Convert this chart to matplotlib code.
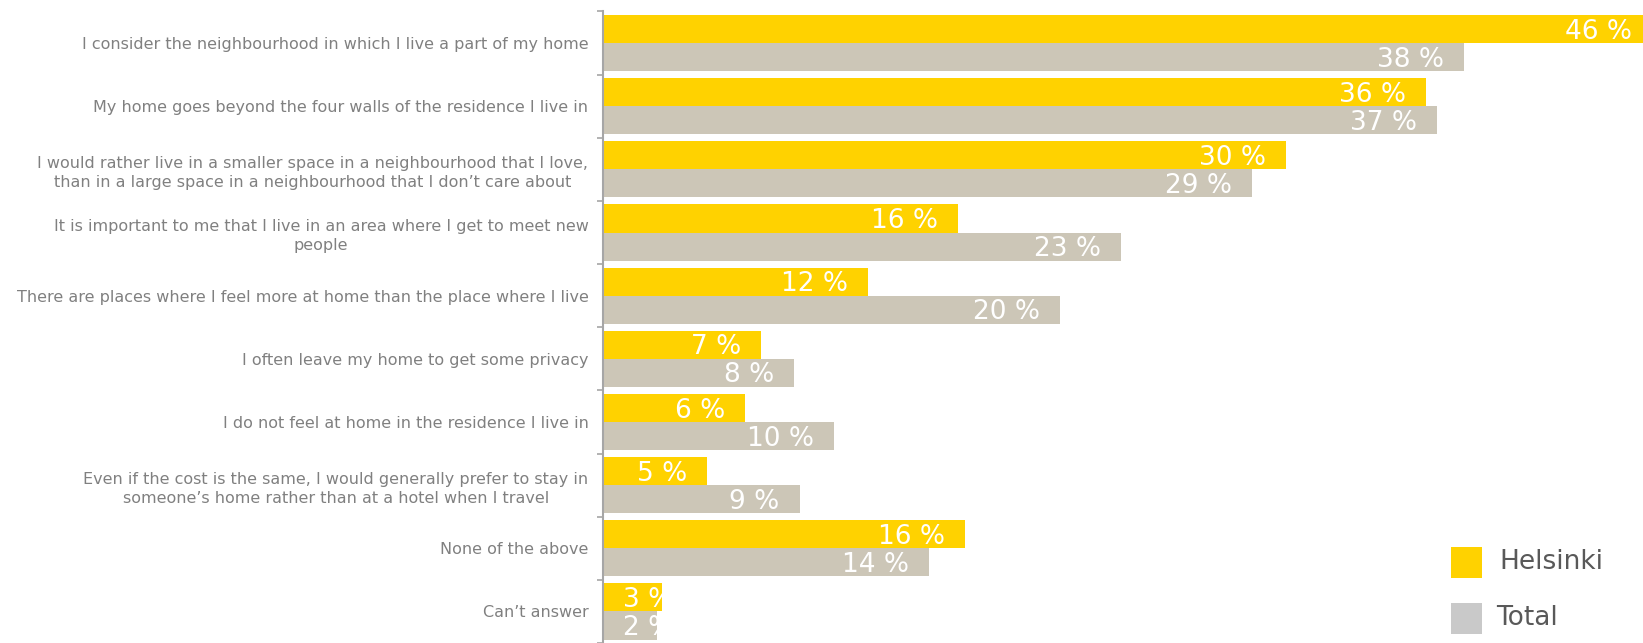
import matplotlib
matplotlib.use("Agg")
import matplotlib.pyplot as plt
from matplotlib.patches import Rectangle
from matplotlib.ticker import FixedLocator, NullFormatter

categories = [
    "I consider the neighbourhood in which I live a part of my home",
    "My home goes beyond the four walls of the residence I live in",
    "I would rather live in a smaller space in a neighbourhood that I love,\nthan in a large space in a neighbourhood that I don\u2019t care about",
    "It is important to me that I live in an area where I get to meet new\npeople",
    "There are places where I feel more at home than the place where I live",
    "I often leave my home to get some privacy",
    "I do not feel at home in the residence I live in",
    "Even if the cost is the same, I would generally prefer to stay in\nsomeone\u2019s home rather than at a hotel when I travel",
    "None of the above",
    "Can\u2019t answer",
]
helsinki = [46.4, 36.4, 30.2, 15.7, 11.7, 7.0, 6.3, 4.6, 16.0, 2.6]
total = [38.1, 36.9, 28.7, 22.9, 20.2, 8.45, 10.2, 8.7, 14.4, 2.4]
series_names = ["Helsinki", "Total"]

YELLOW = "#FFD200"
GREY_BAR = "#CCC6B7"
GREY_LEG = "#C9C9C9"
LABEL_GREY = "#808080"

W, H = 1643, 643
fig = plt.figure(figsize=(W / 100, H / 100), dpi=100)
ax_left = 603 / W
ax_top = 1 - 11.5 / H
ax = fig.add_axes([ax_left, 0.0, 1 - ax_left, ax_top])

n = len(categories)
ys = list(range(n))
bh = 0.445
ax.barh([y - bh / 2 for y in ys], helsinki, height=bh, color=YELLOW, linewidth=0)
ax.barh([y + bh / 2 for y in ys], total, height=bh, color=GREY_BAR, linewidth=0)

ax.set_xlim(0, 46.0)
ax.set_ylim(n - 0.5, -0.5)

# value labels
fig.canvas.draw()
renderer = fig.canvas.get_renderer()
px_per_unit = ax.transData.transform((1, 0))[0] - ax.transData.transform((0, 0))[0]
px_per_yunit = abs(ax.transData.transform((0, 1))[1] - ax.transData.transform((0, 0))[1])
off = 20 / px_per_unit
base_dy = 9.6 / px_per_yunit
for vals, dy in ((helsinki, -bh / 2), (total, bh / 2)):
    for y, v in zip(ys, vals):
        t = ax.text(0, y + dy + base_dy, f"{round(v)} %", color="white", fontsize=19,
                    ha="right", va="baseline", clip_on=True)
        w = t.get_window_extent(renderer).width / px_per_unit
        t.set_x(max(v - off, off + w))

# axes styling
for s in ("top", "right", "bottom"):
    ax.spines[s].set_visible(False)
ax.spines["left"].set_color("#A6A6A6")
ax.spines["left"].set_linewidth(1.5)
ax.set_xticks([])
ax.set_yticks(ys)
ax.set_yticklabels(categories, fontsize=11.5, color=LABEL_GREY,
                   multialignment="center", linespacing=1.35)
ax.tick_params(axis="y", which="major", length=0, pad=10.5)
ax.yaxis.set_minor_locator(FixedLocator([i - 0.5 for i in range(n + 1)]))
ax.yaxis.set_minor_formatter(NullFormatter())
ax.tick_params(axis="y", which="minor", length=4, width=1.2, color="#A6A6A6")

# legend
sq = 31
for name, col, y0, tx, ty in ((series_names[0], YELLOW, 547, 1499, 562),
                               (series_names[1], GREY_LEG, 603, 1496, 618)):
    fig.add_artist(Rectangle((1451 / W, 1 - (y0 + sq) / H), sq / W, sq / H,
                             transform=fig.transFigure, color=col, lw=0))
    fig.text(tx / W, 1 - ty / H, name, fontsize=19, color="#595959",
             ha="left", va="center")

fig.savefig("out.png", dpi=100)
